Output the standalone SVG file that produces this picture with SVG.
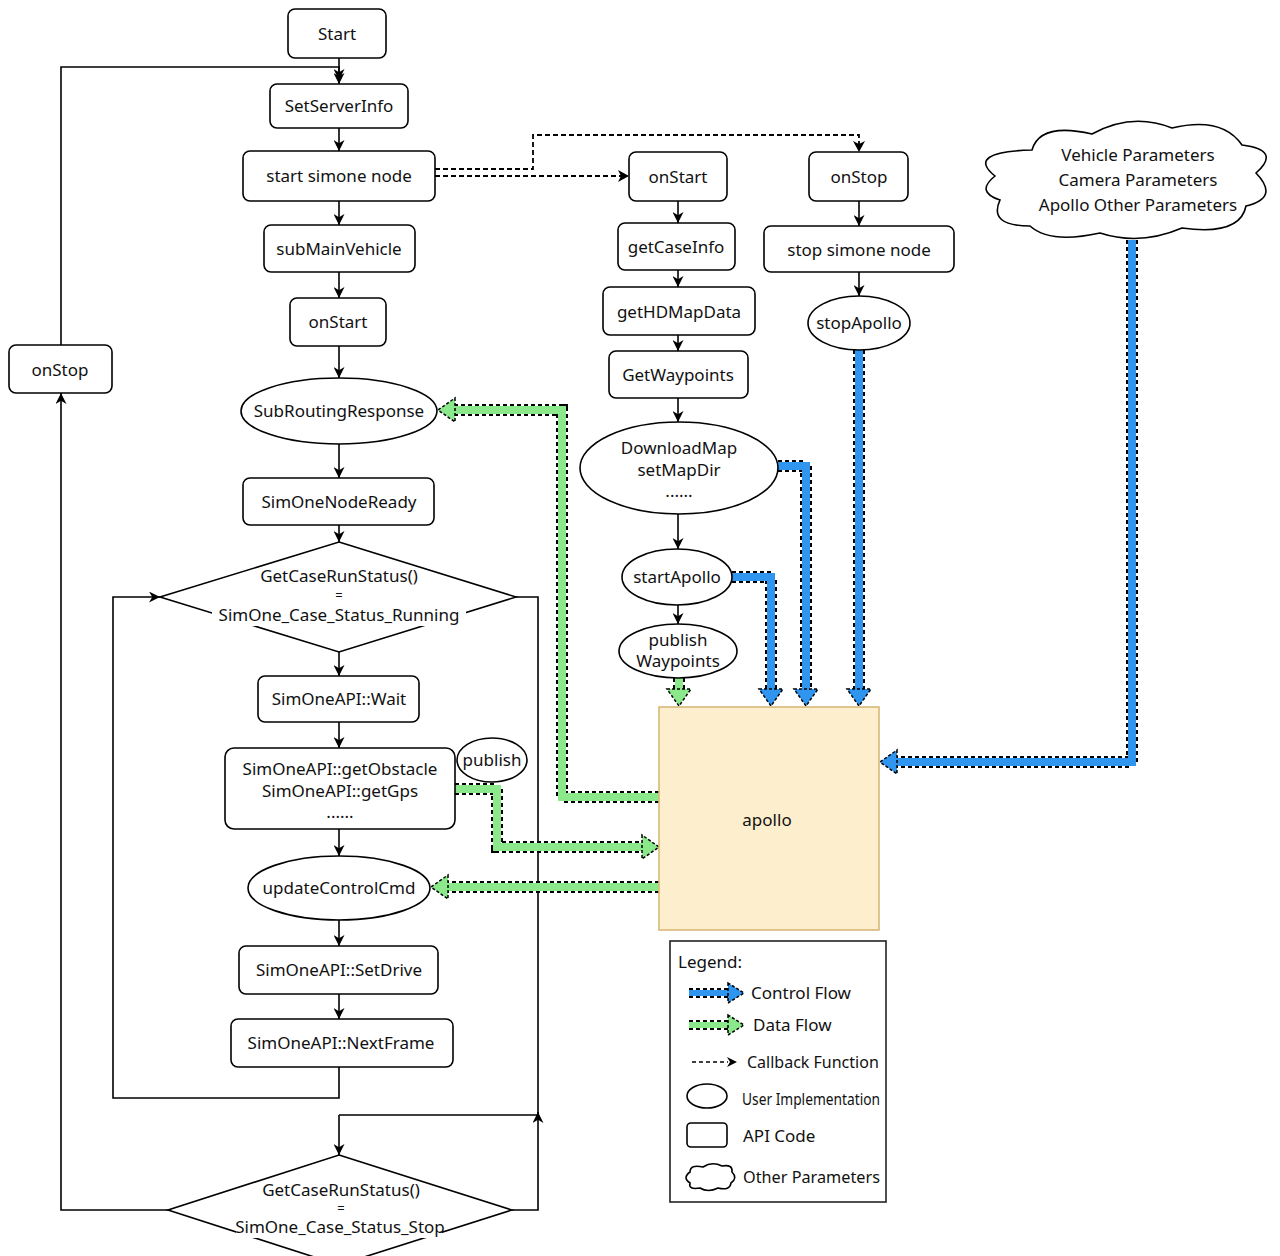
<svg xmlns="http://www.w3.org/2000/svg" width="1280" height="1256" viewBox="0 0 1280 1256">
<defs>
<style>
.n{fill:#fff;stroke:#000;stroke-width:1.6}
.t{font-family:"Noto Sans","Liberation Sans",sans-serif;font-size:17px;fill:#111;text-anchor:middle}
.eq{font-size:13px}
.ln{fill:none;stroke:#000;stroke-width:1.6}
.cb{fill:none;stroke:#000;stroke-width:1.8;stroke-dasharray:5 3}
.bo{fill:none;stroke:#000;stroke-width:12;stroke-dasharray:4 3;stroke-linejoin:miter}
.bb{fill:none;stroke:#2f95ef;stroke-width:8;stroke-linejoin:miter}
.gb{fill:none;stroke:#8be98c;stroke-width:8;stroke-linejoin:miter}
.bh{fill:#2f95ef;stroke:#000;stroke-width:1.5;stroke-dasharray:3 2}
.gh{fill:#8be98c;stroke:#000;stroke-width:1.5;stroke-dasharray:3 2}
.ah{fill:#000;stroke:none}
</style>
<marker id="a" viewBox="0 0 10 10" refX="10" refY="5" markerWidth="11" markerHeight="11" orient="auto" markerUnits="userSpaceOnUse"><path d="M0,0 L10,5 L0,10 L3,5 Z" fill="#000"/></marker>
</defs>
<rect width="1280" height="1256" fill="#fff"/>

<g id="connectors">
<path class="ln" marker-end="url(#a)" d="M339,58 V84"/>
<path class="ln" marker-end="url(#a)" d="M61,345 V67 H339 V80"/>
<path class="ln" marker-end="url(#a)" d="M339,128 V151"/>
<path class="ln" marker-end="url(#a)" d="M339,201 V225"/>
<path class="ln" marker-end="url(#a)" d="M339,272 V298"/>
<path class="ln" marker-end="url(#a)" d="M339,346 V378"/>
<path class="ln" marker-end="url(#a)" d="M339,444 V478"/>
<path class="ln" marker-end="url(#a)" d="M339,525 V542"/>
<path class="ln" marker-end="url(#a)" d="M339,652 V676"/>
<path class="ln" marker-end="url(#a)" d="M339,722 V748"/>
<path class="ln" marker-end="url(#a)" d="M339,829 V856"/>
<path class="ln" marker-end="url(#a)" d="M339,920 V946"/>
<path class="ln" marker-end="url(#a)" d="M339,994 V1019"/>
<path class="ln" marker-end="url(#a)" d="M339,1067 V1098 H113 V597 H160"/>
<path class="ln" d="M516,597 H538 V1115 H339"/>
<path class="ln" marker-end="url(#a)" d="M339,1115 V1155"/>
<path class="ln" marker-end="url(#a)" d="M512,1210 H538 V1112"/>
<path class="ln" marker-end="url(#a)" d="M168,1210 H61 V393"/>
<path class="ln" marker-end="url(#a)" d="M678,201 V223"/>
<path class="ln" marker-end="url(#a)" d="M678,270 V287"/>
<path class="ln" marker-end="url(#a)" d="M678,335 V351"/>
<path class="ln" marker-end="url(#a)" d="M678,398 V422"/>
<path class="ln" marker-end="url(#a)" d="M678,514 V549"/>
<path class="ln" marker-end="url(#a)" d="M678,605 V624"/>
<path class="ln" marker-end="url(#a)" d="M859,201 V226"/>
<path class="ln" marker-end="url(#a)" d="M859,272 V296"/>
<path class="cb" d="M435,169 H533 V135 H859 V146"/>
<path class="ah" d="M853,141 L859,152 L865,141 L859,144 Z"/>
<path class="cb" d="M435,176 H622"/>
<path class="ah" d="M618,170 L629,176 L618,182 L621,176 Z"/>

<!-- blue control flows -->
<path class="bo" d="M1132,240 V762 H897"/><path class="bb" d="M1132,240 V762 H897"/>
<polygon class="bh" points="897,750 897,774 880,762"/>
<path class="bo" d="M859,350 V689"/><path class="bb" d="M859,350 V689"/>
<polygon class="bh" points="847,689 871,689 859,706"/>
<path class="bo" d="M778,466 H806 V689"/><path class="bb" d="M778,466 H806 V689"/>
<polygon class="bh" points="794,689 818,689 806,706"/>
<path class="bo" d="M732,577 H771 V689"/><path class="bb" d="M732,577 H771 V689"/>
<polygon class="bh" points="759,689 783,689 771,706"/>
<!-- green data flows -->
<path class="bo" d="M679,678 V689"/><path class="gb" d="M679,678 V689"/>
<polygon class="gh" points="667,689 691,689 679,706"/>
<path class="bo" d="M659,797 H562 V410 H455"/><path class="gb" d="M659,797 H562 V410 H455"/>
<polygon class="gh" points="455,398 455,422 438,410"/>
<path class="bo" d="M455,789 H497 V847 H642"/><path class="gb" d="M455,789 H497 V847 H642"/>
<polygon class="gh" points="642,835 642,859 659,847"/>
<path class="bo" d="M659,887 H448"/><path class="gb" d="M659,887 H448"/>
<polygon class="gh" points="448,875 448,899 431,887"/>
</g>

<g id="start"><rect class="n" x="288" y="9" width="98" height="49" rx="7"/><text class="t" x="337" y="40">Start</text></g>
<g id="setserverinfo"><rect class="n" x="270" y="84" width="138" height="44" rx="7"/><text class="t" x="339" y="112">SetServerInfo</text></g>
<g id="startsimonenode"><rect class="n" x="243" y="151" width="192" height="50" rx="7"/><text class="t" x="339" y="182">start simone node</text></g>
<g id="submainvehicle"><rect class="n" x="264" y="225" width="151" height="47" rx="7"/><text class="t" x="339" y="255">subMainVehicle</text></g>
<g id="onstart1"><rect class="n" x="290" y="298" width="96" height="48" rx="7"/><text class="t" x="338" y="328">onStart</text></g>
<g id="subroutingresponse"><ellipse class="n" cx="339" cy="411" rx="98" ry="33"/><text class="t" x="339" y="417">SubRoutingResponse</text></g>
<g id="simonenodeready"><rect class="n" x="243" y="478" width="191" height="47" rx="7"/><text class="t" x="339" y="508">SimOneNodeReady</text></g>
<g id="diamond1"><polygon class="n" points="339,542 516,597 339,652 160,597"/>
<rect x="212" y="604" width="254" height="22" fill="#fff"/>
<text class="t" x="339" y="582">GetCaseRunStatus()</text><text class="t eq" x="339" y="600">=</text><text class="t" x="339" y="621">SimOne_Case_Status_Running</text></g>
<g id="wait"><rect class="n" x="258" y="676" width="161" height="46" rx="7"/><text class="t" x="339" y="705">SimOneAPI::Wait</text></g>
<g id="getobstacle"><rect class="n" x="225" y="748" width="230" height="81" rx="9"/><text class="t" x="340" y="775">SimOneAPI::getObstacle</text><text class="t" x="340" y="797">SimOneAPI::getGps</text><text class="t" x="340" y="818">......</text></g>
<g id="publish"><ellipse class="n" cx="492" cy="760" rx="35" ry="22"/><text class="t" x="492" y="766">publish</text></g>
<g id="updatecontrolcmd"><ellipse class="n" cx="339" cy="888" rx="91" ry="32"/><text class="t" x="339" y="894">updateControlCmd</text></g>
<g id="setdrive"><rect class="n" x="239" y="946" width="199" height="48" rx="7"/><text class="t" x="339" y="976">SimOneAPI::SetDrive</text></g>
<g id="nextframe"><rect class="n" x="231" y="1019" width="222" height="48" rx="7"/><text class="t" x="341" y="1049">SimOneAPI::NextFrame</text></g>
<g id="diamond2"><polygon class="n" points="339,1155 512,1210 339,1265 168,1210"/>
<rect x="236" y="1216" width="206" height="22" fill="#fff"/>
<text class="t" x="341" y="1196">GetCaseRunStatus()</text><text class="t eq" x="341" y="1213">=</text><text class="t" x="340" y="1233">SimOne_Case_Status_Stop</text></g>
<g id="onstop1"><rect class="n" x="9" y="345" width="103" height="48" rx="7"/><text class="t" x="60" y="376">onStop</text></g>

<g id="onstart2"><rect class="n" x="629" y="152" width="98" height="49" rx="7"/><text class="t" x="678" y="183">onStart</text></g>
<g id="getcaseinfo"><rect class="n" x="618" y="223" width="117" height="47" rx="7"/><text class="t" x="676" y="253">getCaseInfo</text></g>
<g id="gethdmapdata"><rect class="n" x="603" y="287" width="152" height="48" rx="7"/><text class="t" x="679" y="318">getHDMapData</text></g>
<g id="getwaypoints"><rect class="n" x="609" y="351" width="139" height="47" rx="7"/><text class="t" x="678" y="381">GetWaypoints</text></g>
<g id="downloadmap"><ellipse class="n" cx="679" cy="468" rx="99" ry="46"/><text class="t" x="679" y="454">DownloadMap</text><text class="t" x="679" y="476">setMapDir</text><text class="t" x="679" y="497">......</text></g>
<g id="startapollo"><ellipse class="n" cx="677" cy="577" rx="55" ry="28"/><text class="t" x="677" y="583">startApollo</text></g>
<g id="publishwaypoints"><ellipse class="n" cx="678" cy="651" rx="59" ry="27"/><text class="t" x="678" y="646">publish</text><text class="t" x="678" y="667">Waypoints</text></g>

<g id="onstop2"><rect class="n" x="809" y="152" width="99" height="49" rx="7"/><text class="t" x="859" y="183">onStop</text></g>
<g id="stopsimonenode"><rect class="n" x="764" y="226" width="190" height="46" rx="7"/><text class="t" x="859" y="256">stop simone node</text></g>
<g id="stopapollo"><ellipse class="n" cx="859" cy="323" rx="51" ry="27"/><text class="t" x="859" y="329">stopApollo</text></g>

<g id="parameters"><path class="n" d="M1000,200 Q975,192 995,176 Q965,152 1032,150 Q1040,122 1092,134 Q1132,112 1172,128 Q1222,116 1242,145 Q1282,150 1256,173 Q1280,198 1246,206 Q1240,236 1182,228 Q1140,246 1100,233 Q1050,244 1030,226 Q988,226 1000,200 Z"/>
<text class="t" x="1138" y="161">Vehicle Parameters</text><text class="t" x="1138" y="186">Camera Parameters</text><text class="t" x="1138" y="211">Apollo Other Parameters</text></g>

<g id="apollo"><rect x="659" y="707" width="220" height="223" fill="#fdefcd" stroke="#d8b878" stroke-width="1.6"/><text class="t" x="767" y="826">apollo</text></g>

<g id="legend"><rect x="670" y="941" width="216" height="261" fill="#fff" stroke="#222" stroke-width="1.6"/>
<text class="t" x="678" y="968" style="text-anchor:start">Legend:</text>
<path class="bo" d="M689,993 H728" style="stroke-width:10"/><path class="bb" d="M689,993 H728" style="stroke-width:6"/>
<polygon class="bh" points="728,983 728,1003 744,993"/>
<text class="t" x="751" y="999" style="text-anchor:start">Control Flow</text>
<path class="bo" d="M689,1025 H728" style="stroke-width:10"/><path class="gb" d="M689,1025 H728" style="stroke-width:6"/>
<polygon class="gh" points="728,1015 728,1035 744,1025"/>
<text class="t" x="753" y="1031" style="text-anchor:start">Data Flow</text>
<path class="cb" d="M692,1062 H728" style="stroke-width:1.5;stroke-dasharray:4 3"/>
<path class="ah" d="M727,1057 L737,1062 L727,1067 L730,1062 Z"/>
<text class="t" x="747" y="1068" style="text-anchor:start;font-size:16px">Callback Function</text>
<ellipse class="n" cx="707" cy="1096" rx="20" ry="12"/>
<text class="t" x="742" y="1105" style="text-anchor:start;font-size:16px" textLength="138" lengthAdjust="spacingAndGlyphs">User Implementation</text>
<rect class="n" x="687" y="1123" width="40" height="24" rx="4"/>
<text class="t" x="743" y="1142" style="text-anchor:start">API Code</text>
<path class="n" d="M690,1183 Q682,1178 690,1172 Q690,1164 703,1167 Q712,1161 722,1166 Q733,1164 732,1172 Q738,1178 731,1183 Q730,1191 718,1188 Q708,1193 700,1188 Q688,1190 690,1183 Z"/>
<text class="t" x="743" y="1183" style="text-anchor:start" textLength="137" lengthAdjust="spacingAndGlyphs">Other Parameters</text>
</g>
</svg>
